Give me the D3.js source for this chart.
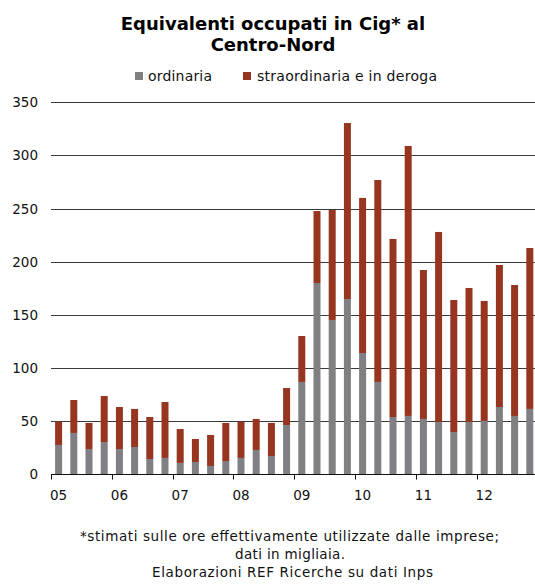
<!DOCTYPE html>
<html>
<head>
<meta charset="utf-8">
<script src="https://cdn.jsdelivr.net/npm/d3@7"></script>
<style>
  html, body { margin: 0; padding: 0; background: #fff; }
  svg { display: block; font-family: "DejaVu Sans", Verdana, sans-serif; }
</style>
</head>
<body>
<svg id="chart" width="535" height="584"></svg>
<script>
const quarters = ["05T1","05T2","05T3","05T4","06T1","06T2","06T3","06T4",
  "07T1","07T2","07T3","07T4","08T1","08T2","08T3","08T4",
  "09T1","09T2","09T3","09T4","10T1","10T2","10T3","10T4",
  "11T1","11T2","11T3","11T4","12T1","12T2","12T3","12T4"];
const yearLabels = ["05","06","07","08","09","10","11","12"];
const ordinaria = [27.6,38.9,23.8,30.4,23.8,25.7,14.4,15.4,
  10.7,11.6,7.8,12.5,15.4,22.9,17.2,46.4,
  86.9,180.0,145.2,164.9,114.1,86.9,53.9,54.9,
  52.1,49.2,39.8,49.2,50.2,63.3,54.9,61.5];
const totale = [49.5,69.9,48.3,73.7,63.3,61.5,53.9,68.0,
  42.6,33.2,37.0,48.3,49.5,52.1,48.3,81.2,
  130.1,247.7,248.7,330.5,260.0,276.9,221.4,308.9,
  192.2,228.0,164.0,175.3,163.1,196.9,178.1,212.9];
const straordinaria = totale.map((t, i) => +(t - ordinaria[i]).toFixed(1));
const seriesNames = ["ordinaria", "straordinaria e in deroga"];
const yTicks = [0,50,100,150,200,250,300,350];

const colors = ["#7f7f84", "#963520"];
const svg = d3.select("#chart");

const left = 51, step = 15.2;
const right = left + quarters.length * step;
const x = d3.scaleBand().domain(quarters).range([left, right]).paddingInner(0.54).paddingOuter(0.27);
const xb = d3.scaleLinear().domain([0, quarters.length]).range([left, right]);
const y = d3.scaleLinear().domain([0, 350]).range([474.3, 102.3]);

// gridlines
svg.append("g").selectAll("line").data(yTicks.filter(d => d > 0)).join("line")
  .attr("x1", left).attr("x2", 535)
  .attr("y1", d => Math.round(y(d)) + 0.5).attr("y2", d => Math.round(y(d)) + 0.5)
  .attr("stroke", "#3a3a3a").attr("stroke-width", 1);

// y labels
svg.append("g").selectAll("text").data(yTicks).join("text")
  .attr("x", 38).attr("y", d => y(d) + 5)
  .attr("text-anchor", "end").attr("font-size", 13.5).attr("fill", "#111")
  .text(d => d);

// stacked data
const table = quarters.map((q, i) => ({q, ordinaria: ordinaria[i], straordinaria: straordinaria[i]}));
const stack = d3.stack().keys(["ordinaria", "straordinaria"])(table);
svg.append("g").selectAll("g").data(stack).join("g")
  .attr("fill", (d, i) => colors[i])
  .selectAll("rect").data(d => d).join("rect")
  .attr("x", d => x(d.data.q))
  .attr("width", x.bandwidth())
  .attr("y", d => y(d[1]))
  .attr("height", d => y(d[0]) - y(d[1]));

// x axis line
const base = Math.round(y(0)) + 0.5;
svg.append("line").attr("x1", left).attr("x2", 535).attr("y1", base).attr("y2", base)
  .attr("stroke", "#111").attr("stroke-width", 1);
// boundary ticks
const tickIdx = d3.range(0, quarters.length, 4);
svg.append("g").selectAll("line").data(tickIdx).join("line")
  .attr("x1", d => Math.round(xb(d)) + 0.5).attr("x2", d => Math.round(xb(d)) + 0.5)
  .attr("y1", base).attr("y2", base + 5)
  .attr("stroke", "#111");
// year labels at first quarter
svg.append("g").selectAll("text").data(yearLabels).join("text")
  .attr("x", (d, i) => x(quarters[i * 4]) + x.bandwidth() / 2)
  .attr("y", 500)
  .attr("text-anchor", "middle").attr("font-size", 13.5).attr("fill", "#111")
  .text(d => d);

// title
const title = svg.append("text").attr("text-anchor", "middle").attr("font-weight", "bold")
  .attr("font-size", 18).attr("fill", "#000");
title.append("tspan").attr("x", 273).attr("y", 30).text("Equivalenti occupati in Cig* al");
title.append("tspan").attr("x", 273).attr("y", 51).text("Centro-Nord");

// legend
const leg = [{x: 135, tx: 148, w: 64}, {x: 243, tx: 257, w: 180}];
seriesNames.forEach((s, i) => {
  svg.append("rect").attr("x", leg[i].x).attr("y", 72).attr("width", 8).attr("height", 8).attr("fill", colors[i]);
  svg.append("text").attr("x", leg[i].tx).attr("y", 80.5).attr("font-size", 14)
    .attr("textLength", leg[i].w).attr("lengthAdjust", "spacing")
    .attr("fill", "#111").text(s);
});

// footnote
const notes = ["*stimati sulle ore effettivamente utilizzate dalle imprese;", "dati in migliaia.", "Elaborazioni REF Ricerche su dati Inps"];
const noteX = [80, 235, 152], noteW = [419, 110, 281];
svg.append("g").selectAll("text").data(notes).join("text")
  .attr("x", (d, i) => noteX[i]).attr("y", (d, i) => 541 + i * 18)
  .attr("font-size", 13.5).attr("fill", "#111")
  .attr("textLength", (d, i) => noteW[i]).attr("lengthAdjust", "spacing")
  .text(d => d);
</script>
</body>
</html>
